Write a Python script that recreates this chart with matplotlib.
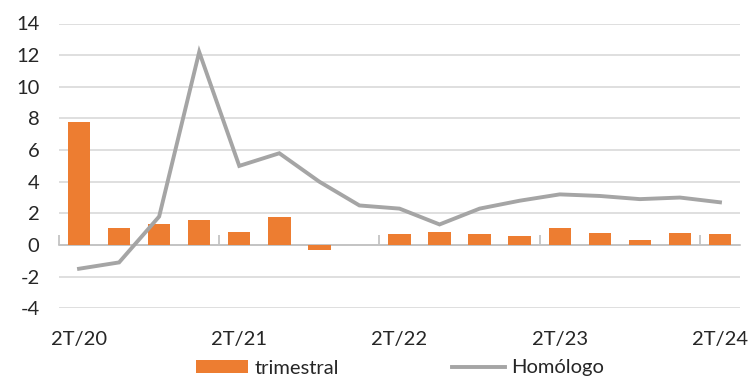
import matplotlib
matplotlib.use("Agg")
import matplotlib.pyplot as plt
import matplotlib.transforms as mtransforms
import numpy as np

# Quarterly GDP growth (%): quarter-on-quarter bars and year-on-year line
quarters = ["2T/20", "3T/20", "4T/20", "1T/21", "2T/21", "3T/21", "4T/21", "1T/22",
            "2T/22", "3T/22", "4T/22", "1T/23", "2T/23", "3T/23", "4T/23", "1T/24", "2T/24"]
trimestral = [7.8, 1.1, 1.3, 1.6, 0.8, 1.8, -0.3, 0.0,
              0.7, 0.8, 0.7, 0.6, 1.1, 0.75, 0.3, 0.75, 0.7]
homologo = [-1.5, -1.1, 1.8, 12.2, 5.0, 5.8, 4.0, 2.5,
            2.3, 1.3, 2.3, 2.8, 3.2, 3.1, 2.9, 3.0, 2.7]
shown_labels = ["2T/20", "2T/21", "2T/22", "2T/23", "2T/24"]
y_ticks = [-4, -2, 0, 2, 4, 6, 8, 10, 12, 14]

text_color = "#262626"
plt.rcParams["font.family"] = ["Lato", "DejaVu Sans"]

fig = plt.figure(figsize=(7.49, 3.78), dpi=100)
ax = fig.add_axes([59 / 749, 1 - 308.3 / 378, (740 - 59) / 749, (308.3 - 23.5) / 378])

x = np.arange(len(quarters))
bars = ax.bar(x, trimestral, width=0.56, color="#ED7D31", label="trimestral", zorder=3)
line, = ax.plot(x, homologo, color="#A5A5A5", lw=2.8, label="Homólogo", zorder=4,
                solid_joinstyle="miter")

ax.set_xlim(-0.5, len(quarters) - 0.5)
ax.set_ylim(-4, 14)
ax.set_yticks(y_ticks)
ax.set_yticklabels([str(v) for v in y_ticks])
ax.yaxis.grid(True, color="#D9D9D9", lw=1.2, zorder=0)
ax.set_axisbelow(True)

for side in ("top", "right", "left"):
    ax.spines[side].set_visible(False)
ax.spines["bottom"].set_position(("data", 0))
ax.spines["bottom"].set_color("#BFBFBF")
ax.spines["bottom"].set_linewidth(1.2)
ax.spines["bottom"].set_zorder(2)

# Tick marks between every fourth quarter on the zero line
ax.set_xticks(np.arange(-0.5, len(quarters), 4))
ax.set_xticklabels([])
ax.tick_params(axis="x", direction="in", length=7, width=1.2, color="#BFBFBF")
ax.tick_params(axis="y", length=0, pad=14, labelsize=14.5, labelcolor=text_color)

# Category labels beneath the plot area
trans = mtransforms.blended_transform_factory(ax.transData, ax.transAxes)
for i, q in enumerate(quarters):
    if q in shown_labels:
        ax.text(i, -0.111, q, transform=trans, ha="center", va="center",
                fontsize=14.5, color=text_color, clip_on=False)

fig.legend(handles=[bars, line], labels=["trimestral", "Homólogo"],
           loc="center", bbox_to_anchor=(400 / 749, 1 - 368 / 378), ncol=2,
           frameon=False, fontsize=14.5, handlelength=2.6, handleheight=0.65,
           handletextpad=0.35, columnspacing=5.6, labelcolor=text_color)

fig.savefig("out.png", dpi=100)
